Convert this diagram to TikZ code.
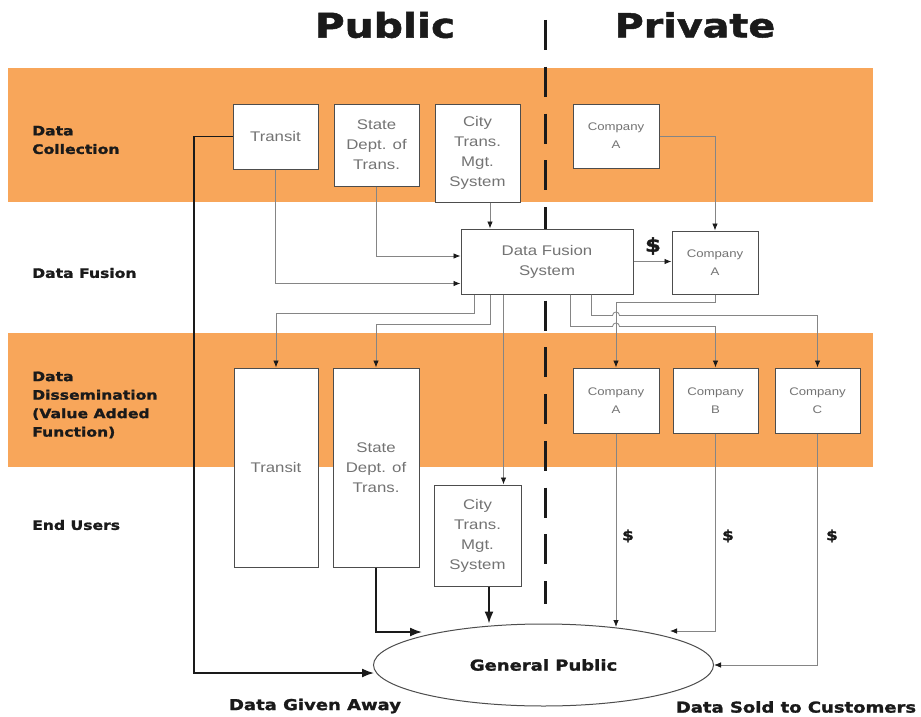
\documentclass[tikz,border=0pt]{standalone}
\usepackage{fontspec}
\setmainfont{Liberation Sans}[FakeStretch=1.2]
\newfontfamily\heavyfont{DejaVu Sans}[FakeStretch=1.2, FakeBold=1.5]
\usetikzlibrary{arrows.meta,calc,shapes.geometric}

\definecolor{band}{HTML}{F8A65A}
\definecolor{boxline}{HTML}{4D4D4D}
\definecolor{boxtext}{HTML}{737373}
\definecolor{wiregray}{HTML}{858585}
\definecolor{ink}{HTML}{1A1A1A}

\tikzset{
  box/.style={draw=boxline, line width=1pt, fill=white, text=boxtext, align=center,
    inner sep=0pt, font=\fontsize{14}{20}\selectfont},
  cobox/.style={box, font=\fontsize{11}{18}\selectfont},
  rowlabel/.style={anchor=west, align=left, inner sep=0pt, text=ink,
    font=\heavyfont\bfseries\fontsize{13}{18.5}\selectfont},
  heavytext/.style={inner sep=0pt, text=ink, font=\heavyfont\bfseries\fontsize{15}{18}\selectfont},
  wire/.style={draw=wiregray, line width=0.8pt, -{Latex[length=7pt,width=5.5pt,color=ink]}},
  heavywire/.style={draw=ink, line width=1.6pt, -{Latex[length=12pt,width=9pt]}},
  divider/.style={draw=ink, line width=3pt, dash pattern=on 30pt off 16.75pt},
}

\begin{document}
\begin{tikzpicture}[x=1pt,y=-1pt]
  % canvas
  \fill[white] (0,0) rectangle (921,717);
  \useasboundingbox (0,0) rectangle (921,717);

  % stage bands
  \fill[band] (8,68) rectangle (873,202);
  \fill[band] (8,333) rectangle (873,467);

  % headings
  \node[heavytext, font=\heavyfont\bfseries\fontsize{34}{34}\selectfont] (pub) at (385,25) {Public};
  \node[heavytext, font=\heavyfont\bfseries\fontsize{33}{34}\selectfont] (priv) at (695,25) {Private};

  % stage labels
  \node[rowlabel] (lcol) at (32,140) {Data\\Collection};
  \node[rowlabel] (lfus) at (32,273) {Data Fusion};
  \node[rowlabel] (ldis) at (32,405) {Data\\Dissemination\\(Value Added\\Function)};
  \node[rowlabel] (lend) at (32,525) {End Users};

  % public / private divider
  \coordinate (divTop) at (545,20);
  \coordinate (divBot) at (545,604);
  \draw[divider] (divTop) -- (divBot);

  % collection
  \node[box, minimum width=85pt, minimum height=65pt] (tr1) at (275.5,136.5) {Transit};
  \node[box, minimum width=85pt, minimum height=82pt] (st1) at (376.5,145) {State\\Dept. of\\Trans.};
  \node[box, minimum width=85pt, minimum height=98pt] (ct1) at (477.5,153) {City\\Trans.\\Mgt.\\System};
  \node[cobox, minimum width=86pt, minimum height=64pt] (ca1) at (616,136) {Company\\A};

  % fusion
  \node[box, minimum width=172pt, minimum height=65pt] (dfs) at (547,261.5) {Data Fusion\\System};
  \node[cobox, minimum width=86pt, minimum height=63pt] (ca2) at (715,262.5) {Company\\A};

  % dissemination
  \node[box, minimum width=84pt, minimum height=199pt] (tr3) at (276,467.5) {Transit};
  \node[box, minimum width=86pt, minimum height=199pt] (st3) at (376,467.5) {State\\Dept. of\\Trans.};
  \node[box, minimum width=87pt, minimum height=101pt] (ct3) at (477.5,535.5) {City\\Trans.\\Mgt.\\System};
  \node[cobox, minimum width=86pt, minimum height=65pt] (ca3) at (616,400.5) {Company\\A};
  \node[cobox, minimum width=85pt, minimum height=65pt] (cb3) at (715.5,400.5) {Company\\B};
  \node[cobox, minimum width=85pt, minimum height=65pt] (cc3) at (817.5,400.5) {Company\\C};

  % end users
  \node[ellipse, draw=boxline, line width=1pt, fill=white, inner sep=0pt,
        minimum width=340pt, minimum height=82pt, text=ink,
        font=\heavyfont\bfseries\fontsize{15}{18}\selectfont] (gp) at (543.5,665) {General Public};

  % collection -> fusion
  \draw[wire] (tr1.south) |- ($(dfs.south west)+(0,-11)$);
  \draw[wire] (st1.south) |- ($(dfs.west)+(0,-5.5)$);
  \coordinate (ctOut) at ($(ct1.south)+(12.5,0)$);
  \draw[wire] (ctOut) -- (ctOut |- dfs.north);
  \draw[wire] (ca1.east) -| (ca2.north);
  \draw[wire] (dfs.east) -- (dfs.east -| ca2.west);
  \node[heavytext, font=\heavyfont\bfseries\fontsize{19}{20}\selectfont] (buy) at (653,246) {\$};

  % fusion -> dissemination
  \coordinate (o1) at ($(dfs.south west)+(14,0)$);
  \draw[wire] (o1) -- ++(0,19) -| (tr3.north);
  \coordinate (o2) at ($(dfs.south west)+(30,0)$);
  \draw[wire] (o2) -- ++(0,30) -| (st3.north);
  \coordinate (o3) at ($(dfs.south west)+(43,0)$);
  \draw[wire] (o3) -- (o3 |- ct3.north);
  \coordinate (o4) at ($(dfs.south west)+(110,0)$);
  \draw[wire] (o4) -- ++(0,32) -- ($(ca3.north |- o4)+(-3.5,32)$)
    arc[start angle=180, end angle=360, radius=3.5] -| (cb3.north);
  \coordinate (o5) at ($(dfs.south west)+(131,0)$);
  \draw[wire] (o5) -- ++(0,21) -- ($(ca3.north |- o5)+(-3.5,21)$)
    arc[start angle=180, end angle=360, radius=3.5] -| (cc3.north);
  \draw[wire] (ca2.south) -- ++(0,7.5) -| (ca3.north);

  % data given away
  \coordinate (giveCorner) at (194,673);
  \coordinate (gpTransit) at (374,673);
  \draw[heavywire] (tr1.west) -| (giveCorner) -- (gpTransit);
  \coordinate (gpState) at (422,632);
  \draw[heavywire] (st3.south) |- (gpState);
  \coordinate (ctDown) at ($(ct3.south)+(11.5,0)$);
  \draw[heavywire] (ctDown) -- (ctDown |- gp.north);

  % data sold
  \coordinate (gpA) at (616,627);
  \draw[wire] (ca3.south) -- (gpA);
  \coordinate (gpB) at (670,631);
  \draw[wire] (cb3.south) |- (gpB);
  \draw[wire] (cc3.south) |- (gp.east);
  \node[heavytext, font=\heavyfont\bfseries\fontsize{14}{16}\selectfont] (sA) at (628,536) {\$};
  \node[heavytext, font=\heavyfont\bfseries\fontsize{14}{16}\selectfont] (sB) at (728,536) {\$};
  \node[heavytext, font=\heavyfont\bfseries\fontsize{14}{16}\selectfont] (sC) at (832,536) {\$};

  % captions
  \node[heavytext] (given) at (315,706) {Data Given Away};
  \node[heavytext] (sold) at (796,707) {Data Sold to Customers};
\end{tikzpicture}
\end{document}
